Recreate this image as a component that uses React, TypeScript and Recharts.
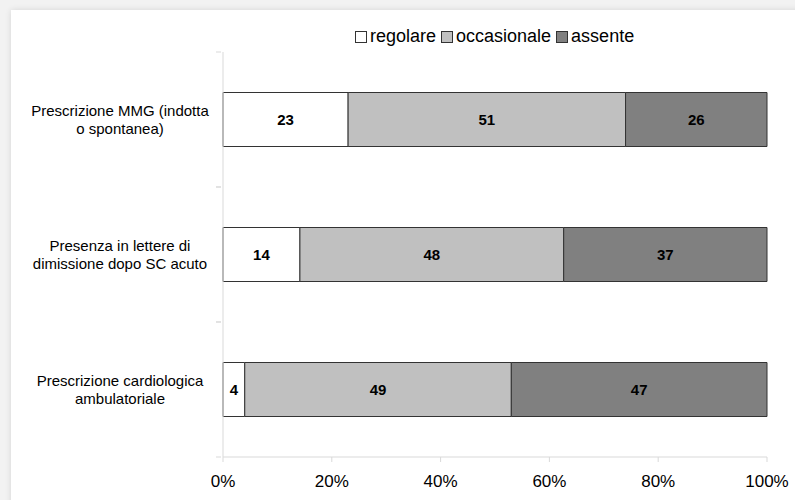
import React from 'react';
import { BarChart, Bar, XAxis, YAxis, Legend, LabelList } from 'recharts';

const categories = [
  'Prescrizione MMG (indotta|o spontanea)',
  'Presenza in lettere di|dimissione dopo SC acuto',
  'Prescrizione cardiologica|ambulatoriale',
];
const regolare = [23, 14, 4];
const occasionale = [51, 48, 49];
const assente = [26, 37, 47];
const xTicks = [0, 0.2, 0.4, 0.6, 0.8, 1];

const series = [
  { key: 'regolare', name: 'regolare', fill: '#ffffff' },
  { key: 'occasionale', name: 'occasionale', fill: '#c0c0c0' },
  { key: 'assente', name: 'assente', fill: '#808080' },
];

const data = categories.map((name, i) => ({
  name,
  regolare: regolare[i],
  occasionale: occasionale[i],
  assente: assente[i],
}));

const FONT = "'Liberation Sans', Arial, sans-serif";
const BAND = 135;

const CategoryTick = (props: any) => {
  const { x, y, payload } = props;
  const lines = String(payload.value).split('|');
  return (
    <g>
      <line x1={x + 1} x2={x + 6} y1={y - BAND / 2} y2={y - BAND / 2} stroke="#d9d9d9" />
      <line x1={x + 1} x2={x + 6} y1={y + BAND / 2} y2={y + BAND / 2} stroke="#d9d9d9" />
      <text x={120} y={y - 4} textAnchor="middle" fontSize={15} fill="#000" fontFamily={FONT}>
        {lines.map((l, i) => (
          <tspan key={i} x={120} dy={i === 0 ? 0 : 18}>
            {l}
          </tspan>
        ))}
      </text>
    </g>
  );
};

const LegendContent = () => (
  <div style={{ display: 'flex', alignItems: 'center', fontFamily: FONT, fontSize: 18, color: '#000' }}>
    {series.map((s) => (
      <span key={s.key} style={{ display: 'flex', alignItems: 'center', marginRight: 5 }}>
        <span
          style={{
            width: 10,
            height: 10,
            background: s.fill,
            border: '1px solid #333',
            marginRight: 3,
            display: 'inline-block',
          }}
        />
        {s.name}
      </span>
    ))}
  </div>
);

export default function App() {
  return (
    <div style={{ position: 'absolute', left: 0, top: 0, width: 795, height: 500, background: '#f2f2f2', overflow: 'hidden' }}>
      <div
        style={{
          position: 'absolute',
          left: 11,
          top: 10,
          width: 800,
          height: 500,
          background: '#ffffff',
          boxShadow: '0 0 6px rgba(0,0,0,0.12)',
        }}
      />
      <div style={{ position: 'absolute', left: 0, top: 0 }}>
        <BarChart
          width={795}
          height={500}
          data={data}
          layout="vertical"
          stackOffset="expand"
          barCategoryGap="30%"
          margin={{ top: 52, right: 28, left: 0, bottom: 0 }}
        >
          <XAxis
            type="number"
            domain={[0, 1]}
            ticks={xTicks}
            tickFormatter={(v) => `${Math.round(v * 100)}%`}
            axisLine={{ stroke: '#d9d9d9' }}
            tickLine={{ stroke: '#d9d9d9' }}
            tickSize={5}
            tick={{ fontSize: 17, fill: '#000', fontFamily: FONT, dy: 11 }}
            height={43}
          />
          <YAxis
            type="category"
            dataKey="name"
            width={223}
            axisLine={{ stroke: '#d9d9d9' }}
            tickLine={false}
            tick={<CategoryTick />}
          />
          <Legend
            layout="horizontal"
            verticalAlign="middle"
            align="center"
            wrapperStyle={{ top: 26, left: 355, width: 'auto' }}
            content={<LegendContent />}
          />
          {series.map((s) => (
            <Bar
              key={s.key}
              dataKey={s.key}
              name={s.name}
              stackId="a"
              fill={s.fill}
              stroke="#333333"
              strokeWidth={1}
              isAnimationActive={false}
            >
              <LabelList
                dataKey={s.key}
                position="center"
                fill="#000"
                fontSize={15}
                fontWeight="bold"
                fontFamily={FONT}
              />
            </Bar>
          ))}
        </BarChart>
      </div>
    </div>
  );
}
